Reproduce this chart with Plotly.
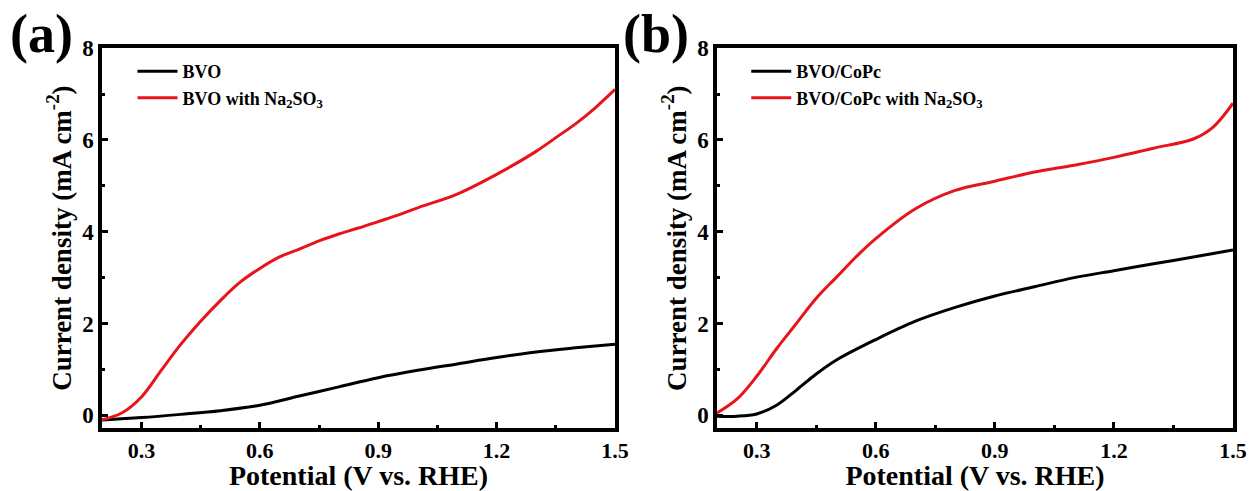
import plotly.graph_objects as go

# Panel (a)
xa_black = [0.2, 0.3, 0.4, 0.5, 0.6, 0.7, 0.8, 0.9, 1.0, 1.1, 1.2, 1.3, 1.4, 1.5]
ya_black = [-0.1, -0.05, 0.02, 0.1, 0.22, 0.42, 0.62, 0.82, 0.98, 1.12, 1.26, 1.38, 1.47, 1.55]
xa_red = [0.2, 0.25, 0.3, 0.35, 0.4, 0.45, 0.5, 0.55, 0.6, 0.65, 0.7, 0.75, 0.8, 0.85,
          0.9, 0.95, 1.0, 1.1, 1.2, 1.3, 1.35, 1.4, 1.45, 1.5]
ya_red = [-0.1, 0.05, 0.4, 0.98, 1.55, 2.05, 2.5, 2.9, 3.2, 3.45, 3.62, 3.8, 3.95, 4.08,
          4.22, 4.36, 4.52, 4.82, 5.25, 5.75, 6.05, 6.35, 6.7, 7.1]

# Panel (b)
xb_black = [0.2, 0.25, 0.3, 0.35, 0.4, 0.45, 0.5, 0.6, 0.7, 0.8, 0.9, 1.0, 1.1, 1.2, 1.3, 1.4, 1.5]
yb_black = [-0.02, -0.02, 0.03, 0.22, 0.55, 0.9, 1.2, 1.65, 2.05, 2.35, 2.6, 2.8, 3.0, 3.15, 3.3, 3.45, 3.6]
xb_red = [0.2, 0.25, 0.3, 0.35, 0.4, 0.45, 0.5, 0.55, 0.6, 0.7, 0.8, 0.9, 1.0, 1.1, 1.2, 1.3, 1.4, 1.45, 1.5]
yb_red = [0.05, 0.35, 0.85, 1.45, 2.0, 2.55, 3.0, 3.45, 3.85, 4.5, 4.9, 5.1, 5.3, 5.45, 5.62, 5.82, 6.02, 6.28, 6.8]

names_a = ["BVO", "BVO with Na<sub>2</sub>SO<sub>3</sub>"]
names_b = ["BVO/CoPc", "BVO/CoPc with Na<sub>2</sub>SO<sub>3</sub>"]

BLACK = "#000000"
RED = "#e8141c"
FONT = "Liberation Serif"

fig = go.Figure()
fig.add_trace(go.Scatter(x=xa_black, y=ya_black, mode="lines", name=names_a[0],
                         line=dict(color=BLACK, width=3, shape="spline"), xaxis="x", yaxis="y", legend="legend"))
fig.add_trace(go.Scatter(x=xa_red, y=ya_red, mode="lines", name=names_a[1],
                         line=dict(color=RED, width=3, shape="spline"), xaxis="x", yaxis="y", legend="legend"))
fig.add_trace(go.Scatter(x=xb_black, y=yb_black, mode="lines", name=names_b[0],
                         line=dict(color=BLACK, width=3, shape="spline"), xaxis="x2", yaxis="y2", legend="legend2"))
fig.add_trace(go.Scatter(x=xb_red, y=yb_red, mode="lines", name=names_b[1],
                         line=dict(color=RED, width=3, shape="spline"), xaxis="x2", yaxis="y2", legend="legend2"))

xaxis_common = dict(range=[0.2, 1.5], tickmode="linear", tick0=0.3, dtick=0.3, tickformat=".1f",
                    automargin=False,
                    ticks="inside", ticklen=6, tickwidth=3, tickcolor=BLACK,
                    minor=dict(ticks="inside", ticklen=3, tickwidth=3, dtick=0.15, tick0=0.15, tickcolor=BLACK),
                    showline=True, linewidth=3.5, linecolor=BLACK, mirror=True, showgrid=False, zeroline=False,
                    tickfont=dict(family=FONT, size=22, color=BLACK, weight="bold"),
                    title=dict(text="Potential (V vs. RHE)", standoff=7,
                               font=dict(family=FONT, size=28, color=BLACK, weight="bold")))
yaxis_common = dict(range=[-0.28, 8], tickmode="linear", tick0=0, dtick=2,
                    automargin=False,
                    ticks="inside", ticklen=6, tickwidth=3, tickcolor=BLACK,
                    minor=dict(ticks="inside", ticklen=3, tickwidth=3, dtick=1, tick0=0, tickcolor=BLACK),
                    showline=True, linewidth=3.5, linecolor=BLACK, mirror=True, showgrid=False, zeroline=False,
                    tickfont=dict(family=FONT, size=23, color=BLACK, weight="bold"),
                    title=dict(text="Current density (mA cm<sup>-2</sup>)", standoff=4,
                               font=dict(family=FONT, size=27, color=BLACK, weight="bold")))

legend_common = dict(bgcolor="rgba(0,0,0,0)", borderwidth=0, tracegroupgap=0,
                     font=dict(family=FONT, size=18, color=BLACK, weight="bold"),
                     xanchor="left", yanchor="top", itemwidth=40)

fig.update_layout(
    width=1250, height=491,
    margin=dict(l=0, r=0, t=0, b=0, autoexpand=False),
    paper_bgcolor="white", plot_bgcolor="white",
    xaxis=dict(domain=[0.0816, 0.492], anchor="y", **xaxis_common),
    yaxis=dict(domain=[0.128, 0.902], anchor="x", **yaxis_common),
    xaxis2=dict(domain=[0.5736, 0.9864], anchor="y2", **xaxis_common),
    yaxis2=dict(domain=[0.128, 0.902], anchor="x2", **yaxis_common),
    legend=dict(x=0.106, y=0.892, **legend_common),
    legend2=dict(x=0.597, y=0.892, **legend_common),
    annotations=[
        dict(text="(a)", xref="paper", yref="paper", x=0.006, y=0.995, xanchor="left", yanchor="top",
             showarrow=False, font=dict(family=FONT, size=54, color=BLACK, weight="bold")),
        dict(text="(b)", xref="paper", yref="paper", x=0.497, y=0.995, xanchor="left", yanchor="top",
             showarrow=False, font=dict(family=FONT, size=54, color=BLACK, weight="bold")),
    ],
)

fig.write_html("out.html", config=dict(displayModeBar=False),
               post_script="document.body.style.margin='0';document.body.style.overflow='hidden';")
